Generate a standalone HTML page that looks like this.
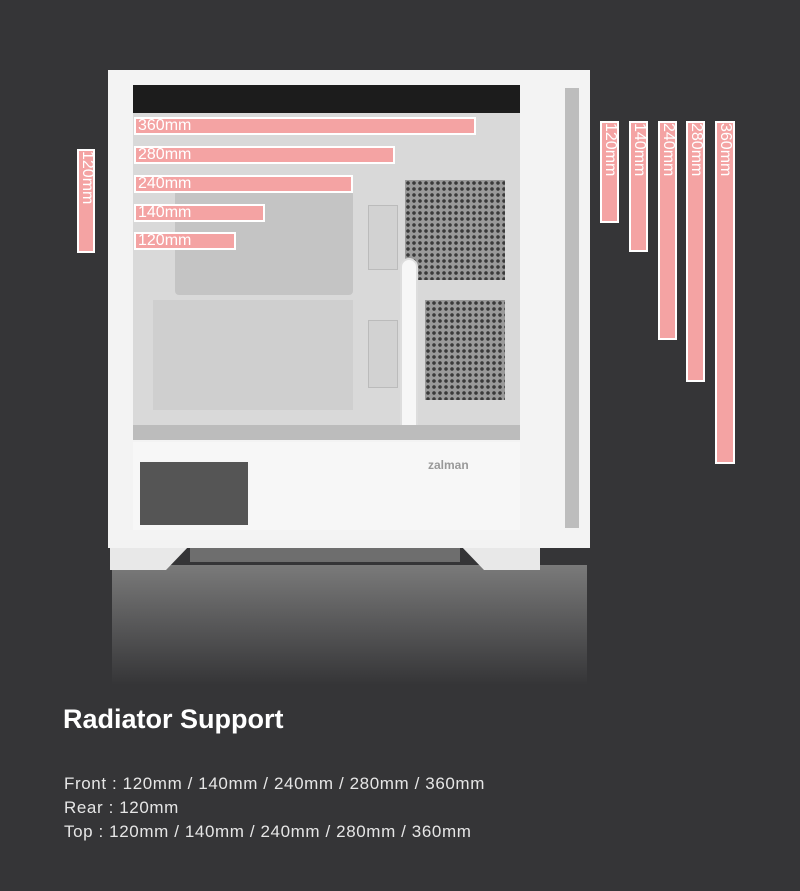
<!DOCTYPE html>
<html><head><meta charset="utf-8"><style>
*{margin:0;padding:0;box-sizing:border-box}
body{width:800px;height:891px;background:#353537;position:relative;overflow:hidden;font-family:"Liberation Sans","Noto Sans CJK KR",sans-serif}
.a{position:absolute}
.hb{position:absolute;background:#f4a3a3;border:2px solid #fff;color:#fff;font-size:16px;line-height:14px;padding-left:2px;white-space:nowrap;overflow:hidden}
.vb{position:absolute;background:#f4a3a3;border:2px solid #fff;color:#fff;font-size:16px;overflow:hidden}
.vb span{position:absolute;left:15px;top:0;transform-origin:0 0;transform:rotate(90deg);white-space:nowrap;line-height:14px}
.perf{background-color:#9a9a9a;background-image:radial-gradient(circle,#3a3a3a 1.6px,transparent 2px);background-size:6px 6px}
</style></head><body>
<!-- reflection -->
<div class="a" style="left:112px;top:565px;width:475px;height:120px;background:linear-gradient(#7a7a7a,#353537)"></div>
<!-- feet -->
<div class="a" style="left:110px;top:545px;width:80px;height:25px;background:#e8e8e8;clip-path:polygon(0 0,100% 0,70% 100%,0 100%)"></div>
<div class="a" style="left:460px;top:545px;width:80px;height:25px;background:#e8e8e8;clip-path:polygon(0 0,100% 0,100% 100%,30% 100%)"></div>
<div class="a" style="left:190px;top:548px;width:270px;height:14px;background:#6e6e6e"></div>
<!-- case -->
<div class="a" style="left:108px;top:70px;width:482px;height:478px;background:#f3f3f3"></div>
<div class="a" style="left:565px;top:88px;width:14px;height:440px;background:#bdbdbd"></div>
<div class="a" style="left:133px;top:85px;width:387px;height:355px;background:#d9d9d9"></div>
<div class="a" style="left:133px;top:85px;width:387px;height:28px;background:#1c1c1c"></div>
<div class="a" style="left:175px;top:190px;width:178px;height:105px;background:#c4c4c4;border-radius:4px"></div>
<div class="a" style="left:153px;top:300px;width:200px;height:110px;background:#cfcfcf"></div>
<div class="a perf" style="left:405px;top:180px;width:100px;height:100px"></div>
<div class="a perf" style="left:425px;top:300px;width:80px;height:100px"></div>
<div class="a" style="left:400px;top:258px;width:18px;height:182px;background:#f7f7f7;border:2px solid #ddd;border-radius:9px"></div>
<div class="a" style="left:368px;top:205px;width:30px;height:65px;border:1px solid #bbb;background:#d2d2d2"></div>
<div class="a" style="left:368px;top:320px;width:30px;height:68px;border:1px solid #bbb;background:#d2d2d2"></div>
<div class="a" style="left:133px;top:425px;width:387px;height:15px;background:#bcbcbc"></div>
<div class="a" style="left:133px;top:442px;width:387px;height:88px;background:#f7f7f7"></div>
<div class="a" style="left:140px;top:462px;width:108px;height:63px;background:#555"></div>
<div class="a" style="left:428px;top:458px;font-size:12px;font-weight:bold;color:#999">zalman</div>
<!-- horizontal bars -->
<div class="hb" style="left:134px;top:117px;width:342px;height:18px">360mm</div>
<div class="hb" style="left:134px;top:146px;width:261px;height:18px">280mm</div>
<div class="hb" style="left:134px;top:175px;width:219px;height:18px">240mm</div>
<div class="hb" style="left:134px;top:204px;width:131px;height:18px">140mm</div>
<div class="hb" style="left:134px;top:232px;width:102px;height:18px">120mm</div>
<!-- vertical bars -->
<div class="vb" style="left:77px;top:149px;width:18px;height:104px"><span>120mm</span></div>
<div class="vb" style="left:600px;top:121px;width:19px;height:102px"><span>120mm</span></div>
<div class="vb" style="left:629px;top:121px;width:19px;height:131px"><span>140mm</span></div>
<div class="vb" style="left:658px;top:121px;width:19px;height:219px"><span>240mm</span></div>
<div class="vb" style="left:686px;top:121px;width:19px;height:261px"><span>280mm</span></div>
<div class="vb" style="left:715px;top:121px;width:20px;height:343px"><span>360mm</span></div>
<!-- text -->
<div class="a" style="left:63px;top:704px;font-size:27px;font-weight:bold;color:#fff">Radiator Support</div>
<div class="a" style="left:64px;top:772px;font-size:17px;letter-spacing:0.6px;line-height:24px;color:#e6e6e6">Front : 120mm / 140mm / 240mm / 280mm / 360mm<br>Rear : 120mm<br>Top : 120mm / 140mm / 240mm / 280mm / 360mm</div>
</body></html>
